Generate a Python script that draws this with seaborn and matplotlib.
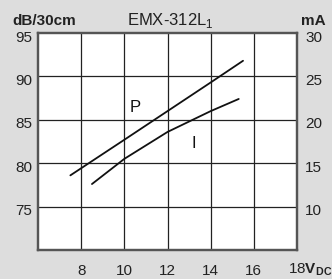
import matplotlib
matplotlib.use("Agg")
import matplotlib.pyplot as plt
import matplotlib.transforms as mtransforms
import seaborn as sns
import pandas as pd

# Data
p_volt = [7.5, 10.0, 12.0, 14.0, 15.5]
p_db = [78.6, 82.7, 86.0, 89.3, 91.8]
i_volt = [8.5, 10.0, 12.0, 14.0, 15.3]
i_ma = [12.6, 15.5, 18.6, 21.0, 22.4]
x_ticks = [8, 10, 12, 14, 16]
left_ticks = [75, 80, 85, 90, 95]
right_ticks = [10, 15, 20, 25, 30]

sns.set_theme(style="white")
plt.rcParams['font.family'] = ['Liberation Sans', 'DejaVu Sans']
plt.rcParams['mathtext.fontset'] = 'custom'
plt.rcParams['mathtext.rm'] = 'Liberation Sans'
plt.rcParams['mathtext.bf'] = 'Liberation Sans:bold'

bg = '#dddddd'
fig = plt.figure(figsize=(3.32, 2.79), dpi=100, facecolor=bg)
ax = fig.add_axes([38/332, 1-250/279, (297-38)/332, (250-33)/279])
ax.set_facecolor('white')

dfp = pd.DataFrame({'V': p_volt, 'dB': p_db})
dfi = pd.DataFrame({'V': i_volt, 'mA': i_ma})

ax.set_xlim(6, 18)
ax.set_ylim(70, 95)
# grid lines at the tick positions
ax.vlines(x_ticks, 70, 95, color='#222222', lw=0.9, zorder=1)
ax.hlines(left_ticks[:-1], 6, 18, color='#222222', lw=0.9, zorder=1)

sns.lineplot(data=dfp, x='V', y='dB', ax=ax, color='#111111', lw=1.3, zorder=5)
ax.set_xlim(6, 18)
ax.set_ylim(70, 95)
ax.set_xticks(x_ticks)
ax.set_xticklabels([str(t) for t in x_ticks])
ax.set_yticks(left_ticks)
ax.set_yticklabels([str(t) for t in left_ticks])
ax.tick_params(length=0, labelsize=11, colors='#222222')
ax.tick_params(axis='x', pad=10)
ax.tick_params(axis='y', pad=4)
ax.set_xlabel('')
ax.set_ylabel('')

ax2 = ax.twinx()
sns.lineplot(data=dfi, x='V', y='mA', ax=ax2, color='#111111', lw=1.3, zorder=5)
ax2.set_ylim(5, 30)
ax2.set_yticks(right_ticks)
ax2.tick_params(length=0, labelsize=11, colors='#222222', pad=6)
ax2.set_ylabel('')
ax2.set_xlabel('')

shift = mtransforms.ScaledTranslation(0, -3/100, fig.dpi_scale_trans)
for lab in ax.get_yticklabels() + ax2.get_yticklabels():
    lab.set_transform(lab.get_transform() + shift)

for a in (ax, ax2):
    for s in a.spines.values():
        s.set_color('#555555')
        s.set_linewidth(1.6)

ax.text(10.5, 86.4, 'P', fontsize=12, ha='center', va='center', color='#111111')
ax.text(13.2, 82.3, 'I', fontsize=12, ha='center', va='center', color='#111111')

fig.text(170/332, 1-21/279, 'EMX-312L$_1$', fontsize=12, ha='center', va='center', color='#222222')
fig.text(12/332, 1-21/279, 'dB/30cm', fontsize=11, fontweight='bold', ha='left', va='center', color='#222222')
fig.text(326/332, 1-21/279, 'mA', fontsize=11, fontweight='bold', ha='right', va='center', color='#222222')
fig.text(288/332, 1-270/279, '18$\\mathbf{V}_{\\mathbf{DC}}$', fontsize=11, ha='left', va='center', color='#222222')

fig.savefig('out.png', dpi=100, facecolor=bg)
